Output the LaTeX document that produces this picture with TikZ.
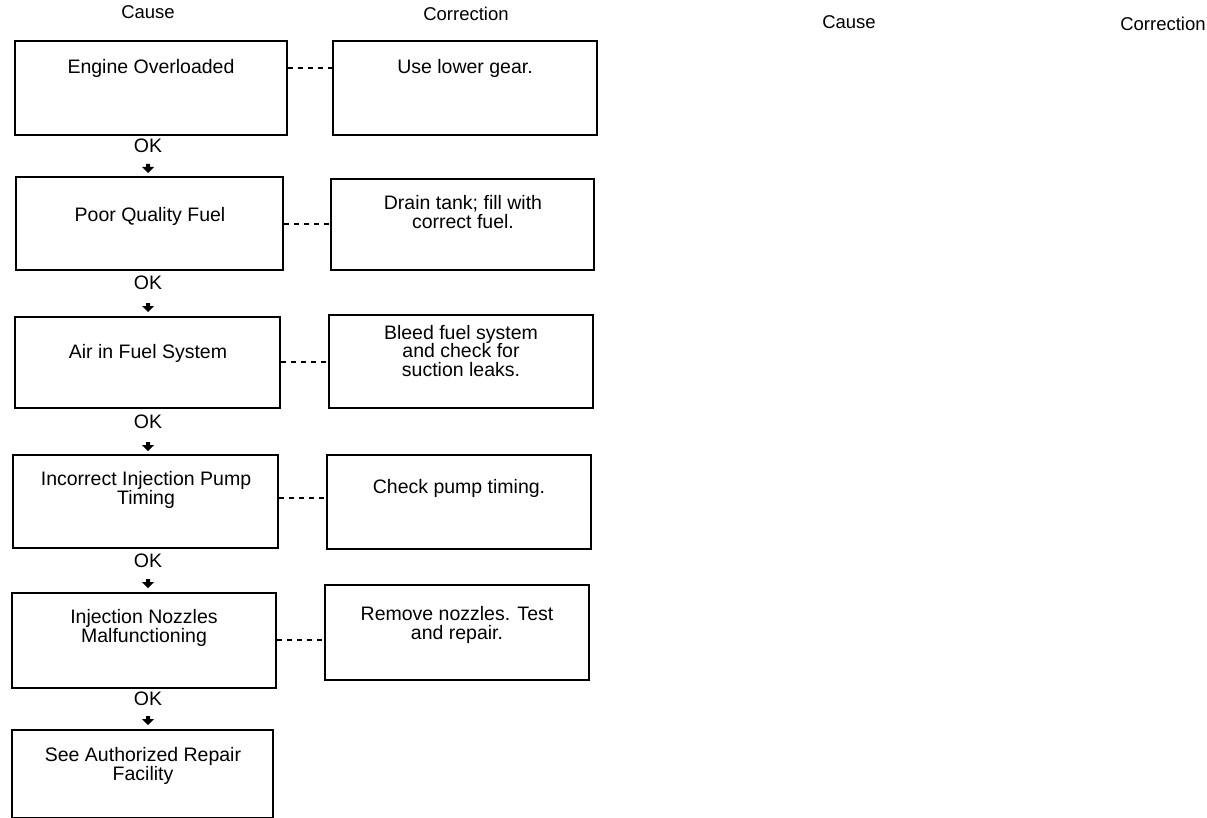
\documentclass[tikz,border=0pt]{standalone}
\usepackage{fontspec}
\setmainfont{Liberation Sans}
\usetikzlibrary{calc}
\tikzset{
  causebox/.style={draw, line width=2.6pt, inner sep=0pt},
  corrbox/.style={draw, line width=1.5pt, inner sep=0pt},
  boxtext/.style={align=center, inner sep=0pt, font=\fontsize{19.5}{18.5}\selectfont},
  headtext/.style={inner sep=0pt, font=\fontsize{18.5}{19}\selectfont},
  oktext/.style={inner sep=0pt, font=\fontsize{19.5}{19}\selectfont},
  link/.style={line width=1.2pt, dash pattern=on 5pt off 5pt},
  okarrow/.pic={\fill (-2,-4) -- (2,-4) -- (2,-1) -- (6,-1) -- (0,5) -- (-6,-1) -- (-2,-1) -- cycle;}
}
\begin{document}
\begin{tikzpicture}[x=1pt,y=-1pt]
\useasboundingbox (0,0) rectangle (1207,818);
% headings
\node[headtext] (h1) at (148,12) {Cause};
\node[headtext] (h2) at (466,14) {Correction};
\node[headtext] (h3) at (849,22) {Cause};
\node[headtext] (h4) at (1163,24) {Correction};
% cause boxes
\node[causebox, minimum width=272pt, minimum height=94pt] (c1) at (151,88) {};
\node[causebox, minimum width=267pt, minimum height=93pt] (c2) at (149.5,223.5) {};
\node[causebox, minimum width=265pt, minimum height=91pt] (c3) at (147.5,362.5) {};
\node[causebox, minimum width=265pt, minimum height=93pt] (c4) at (145.5,501.5) {};
\node[causebox, minimum width=264pt, minimum height=95pt] (c5) at (144,640.5) {};
\node[causebox, minimum width=261pt, minimum height=88pt] (c6) at (142.5,774) {};
\node[boxtext] (ct1) at (151,68) {Engine Overloaded};
\node[boxtext] (ct2) at (150,216) {Poor Quality Fuel};
\node[boxtext] (ct3) at (148,353) {Air in Fuel System};
\node[boxtext] (ct4) at (146,490) {Incorrect Injection Pump\\Timing};
\node[boxtext] (ct5) at (144,628) {Injection Nozzles\\Malfunctioning};
\node[boxtext] (ct6) at (143,766) {See Authorized Repair\\Facility};
% correction boxes
\node[corrbox, minimum width=264pt, minimum height=94pt] (r1) at (465,88) {};
\node[corrbox, minimum width=263pt, minimum height=91pt] (r2) at (462.5,224.5) {};
\node[corrbox, minimum width=264pt, minimum height=93pt] (r3) at (461,361.5) {};
\node[corrbox, minimum width=264pt, minimum height=94pt] (r4) at (459,502) {};
\node[corrbox, minimum width=264pt, minimum height=95pt] (r5) at (457,632.5) {};
\node[boxtext] (rt1) at (465,68) {Use lower gear.};
\node[boxtext] (rt2) at (463,212) {Drain tank; fill with\\correct fuel.};
\node[boxtext] (rt3) at (461,351) {Bleed fuel system\\and check for\\suction leaks.};
\node[boxtext] (rt4) at (459,488) {Check pump timing.};
\node[boxtext] (rt5) at (457,625) {Remove nozzles. Test\\and repair.};
% dashed links
\draw[link] (c1.east |- 0,68) -- (r1.west |- 0,68);
\draw[link] (c2.east |- 0,224) -- (r2.west |- 0,224);
\draw[link] (c3.east |- 0,362) -- (r3.west |- 0,362);
\draw[link] (c4.east |- 0,498) -- (r4.west |- 0,498);
\draw[link] (c5.east |- 0,640) -- (r5.west |- 0,640);
% OK labels and arrows
\node[oktext] (ok1) at (148,146) {OK};
\node[oktext] (ok2) at (148,283) {OK};
\node[oktext] (ok3) at (148,422) {OK};
\node[oktext] (ok4) at (148,561) {OK};
\node[oktext] (ok5) at (148,699) {OK};
\pic at (148,168) {okarrow};
\pic at (148,307) {okarrow};
\pic at (148,446) {okarrow};
\pic at (148,583) {okarrow};
\pic at (148,720) {okarrow};
\end{tikzpicture}
\end{document}
